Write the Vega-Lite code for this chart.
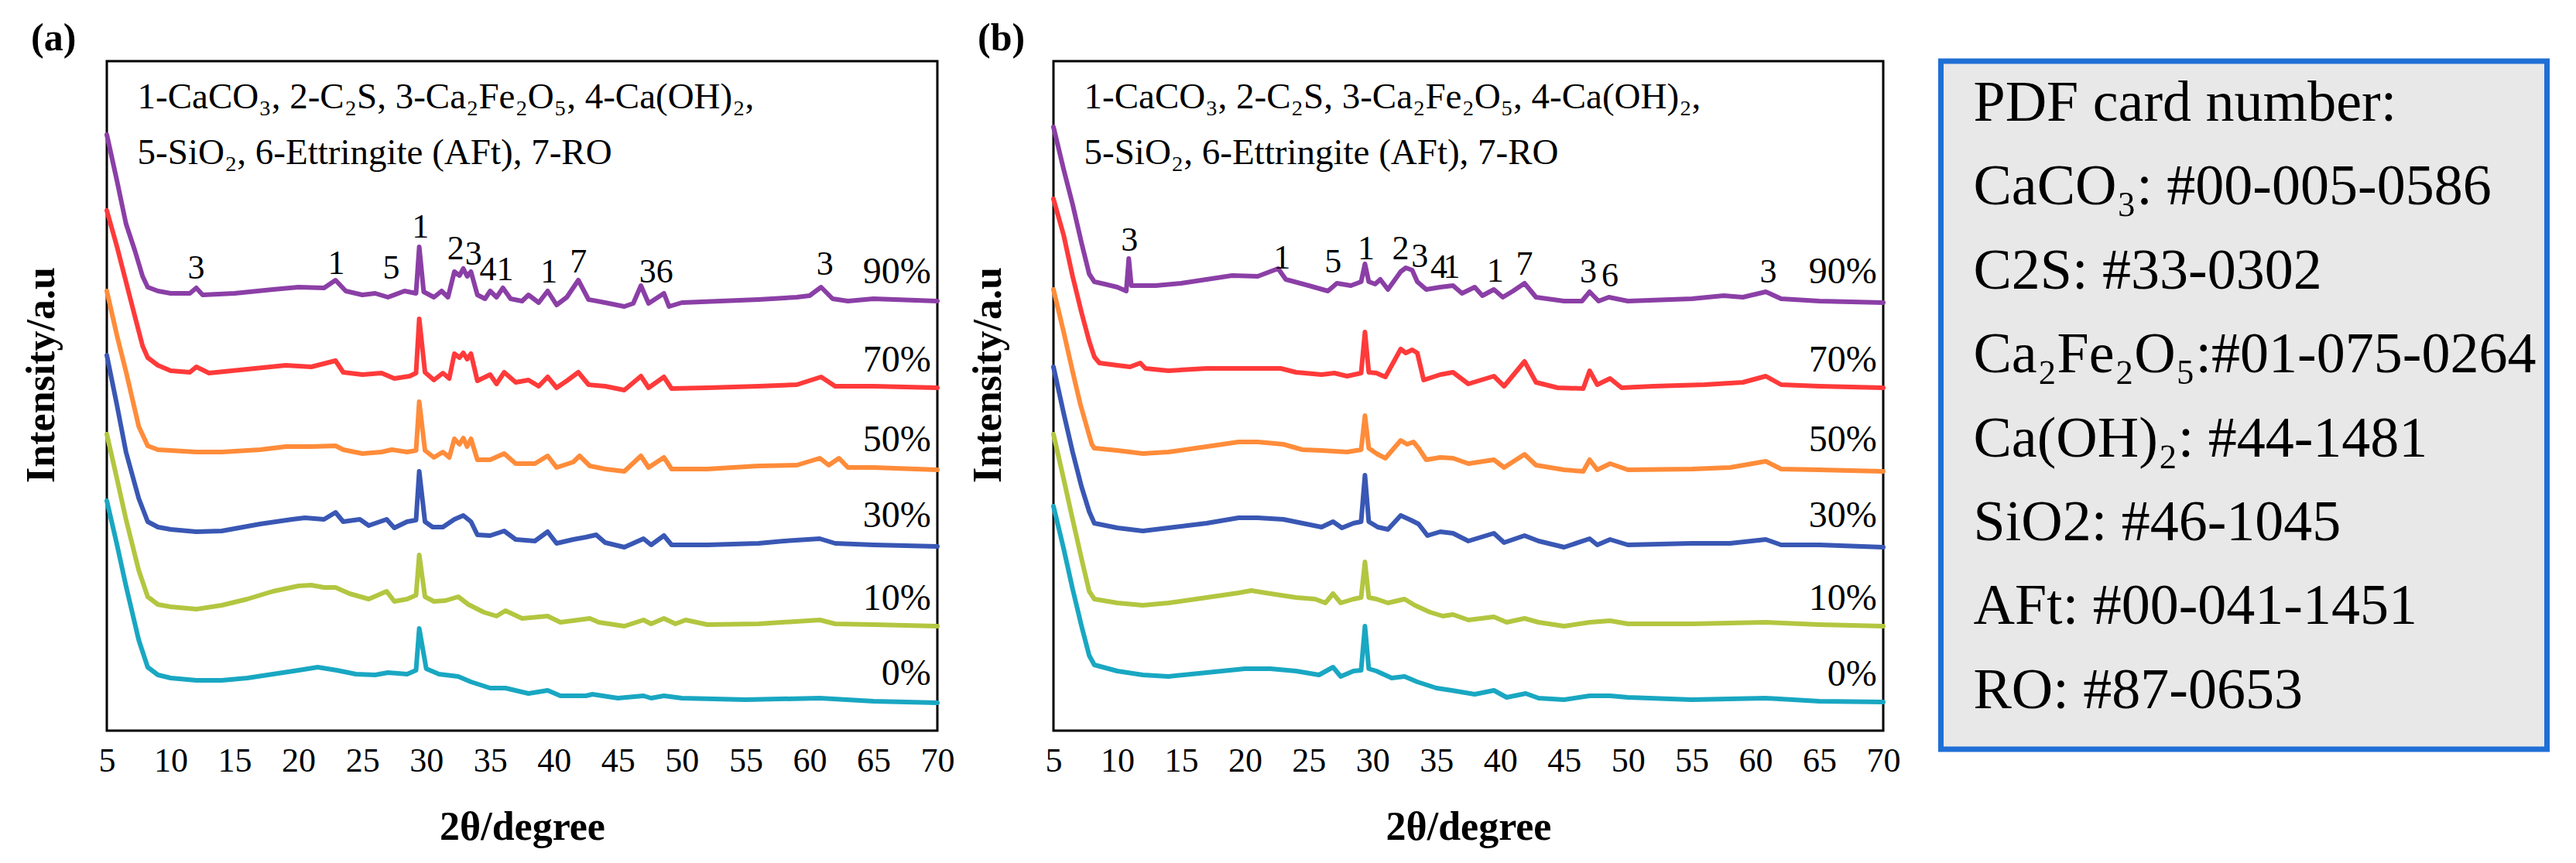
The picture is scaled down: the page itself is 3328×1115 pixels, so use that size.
{
  "$schema": "https://vega.github.io/schema/vega-lite/v6.json",
  "background": "white",
  "padding": {"left": 25, "top": 23, "right": 5, "bottom": 5},
  "config": {
    "font": "Liberation Serif",
    "view": {"stroke": "black", "strokeWidth": 3},
    "axis": {"labelColor": "black", "titleColor": "black", "grid": false}
  },
  "datasets": {
    "majorTicks": [{"x":5},{"x":10},{"x":15},{"x":20},{"x":25},{"x":30},{"x":35},{"x":40},{"x":45},{"x":50},{"x":55},{"x":60},{"x":65},{"x":70}],
    "minorTicks": [{"x":7.5},{"x":12.5},{"x":17.5},{"x":22.5},{"x":27.5},{"x":32.5},{"x":37.5},{"x":42.5},{"x":47.5},{"x":52.5},{"x":57.5},{"x":62.5},{"x":67.5}],
    "notes": [
      {"t": "1-CaCO₃, 2-C₂S, 3-Ca₂Fe₂O₅, 4-Ca(OH)₂,", "x": 7.4, "y": 804},
      {"t": "5-SiO₂, 6-Ettringite (AFt), 7-RO", "x": 7.4, "y": 732}
    ],
    "pct": [
      {"p":"a","t":"90%","x":69.5,"y":592},{"p":"a","t":"70%","x":69.5,"y":478},{"p":"a","t":"50%","x":69.5,"y":375},
      {"p":"a","t":"30%","x":69.5,"y":277},{"p":"a","t":"10%","x":69.5,"y":170},{"p":"a","t":"0%","x":69.5,"y":73},
      {"p":"b","t":"90%","x":69.5,"y":592},{"p":"b","t":"70%","x":69.5,"y":478},{"p":"b","t":"50%","x":69.5,"y":375},
      {"p":"b","t":"30%","x":69.5,"y":277},{"p":"b","t":"10%","x":69.5,"y":170},{"p":"b","t":"0%","x":69.5,"y":72}
    ],
    "peaks": [
      {"p":"a","t":"3","x":12.0,"y":597},{"p":"a","t":"1","x":22.96,"y":603},{"p":"a","t":"5","x":27.26,"y":597},
      {"p":"a","t":"1","x":29.55,"y":650},{"p":"a","t":"2","x":32.3,"y":622},{"p":"a","t":"3","x":33.7,"y":615},
      {"p":"a","t":"41","x":35.5,"y":595},{"p":"a","t":"1","x":39.6,"y":592},{"p":"a","t":"7","x":41.9,"y":605},
      {"p":"a","t":"36","x":48.0,"y":592},{"p":"a","t":"3","x":61.2,"y":602},
      {"p":"b","t":"3","x":10.96,"y":633},{"p":"b","t":"1","x":22.9,"y":610},{"p":"b","t":"5","x":26.9,"y":605},
      {"p":"b","t":"1","x":29.5,"y":622},{"p":"b","t":"2","x":32.2,"y":622},{"p":"b","t":"3","x":33.7,"y":612},
      {"p":"b","t":"4","x":35.2,"y":598},{"p":"b","t":"1","x":36.2,"y":598},{"p":"b","t":"1","x":39.6,"y":593},
      {"p":"b","t":"7","x":41.9,"y":602},{"p":"b","t":"3","x":46.9,"y":592},{"p":"b","t":"6","x":48.6,"y":587},
      {"p":"b","t":"3","x":61.0,"y":592}
    ],
    "card": [
      {"i":0,"t":"PDF card number:"},
      {"i":1,"t":"CaCO₃: #00-005-0586"},
      {"i":2,"t":"C2S: #33-0302"},
      {"i":3,"t":"Ca₂Fe₂O₅:#01-075-0264"},
      {"i":4,"t":"Ca(OH)₂: #44-1481"},
      {"i":5,"t":"SiO2: #46-1045"},
      {"i":6,"t":"AFt: #00-041-1451"},
      {"i":7,"t":"RO: #87-0653"}
    ],
    "curves": [
      {"p":"a","s":"90%","x":5,"y":770},{"p":"a","s":"90%","x":5.8,"y":710},{"p":"a","s":"90%","x":6.5,"y":655},{"p":"a","s":"90%","x":7.2,"y":620},
      {"p":"a","s":"90%","x":7.8,"y":587},{"p":"a","s":"90%","x":8.2,"y":573},{"p":"a","s":"90%","x":9,"y":568},{"p":"a","s":"90%","x":10,"y":565},
      {"p":"a","s":"90%","x":11.5,"y":565},{"p":"a","s":"90%","x":12,"y":572},{"p":"a","s":"90%","x":12.5,"y":563},{"p":"a","s":"90%","x":15,"y":565},
      {"p":"a","s":"90%","x":18,"y":570},{"p":"a","s":"90%","x":20,"y":573},{"p":"a","s":"90%","x":22,"y":572},{"p":"a","s":"90%","x":22.9,"y":582},
      {"p":"a","s":"90%","x":23.7,"y":568},{"p":"a","s":"90%","x":25,"y":563},{"p":"a","s":"90%","x":26,"y":565},{"p":"a","s":"90%","x":27,"y":560},
      {"p":"a","s":"90%","x":28.3,"y":568},{"p":"a","s":"90%","x":29.2,"y":565},{"p":"a","s":"90%","x":29.45,"y":625},{"p":"a","s":"90%","x":29.8,"y":567},
      {"p":"a","s":"90%","x":30.6,"y":560},{"p":"a","s":"90%","x":31.2,"y":568},{"p":"a","s":"90%","x":31.7,"y":560},{"p":"a","s":"90%","x":32.2,"y":593},
      {"p":"a","s":"90%","x":32.6,"y":588},{"p":"a","s":"90%","x":32.9,"y":597},{"p":"a","s":"90%","x":33.2,"y":587},{"p":"a","s":"90%","x":33.5,"y":593},
      {"p":"a","s":"90%","x":34,"y":563},{"p":"a","s":"90%","x":34.6,"y":558},{"p":"a","s":"90%","x":35,"y":568},{"p":"a","s":"90%","x":35.5,"y":560},
      {"p":"a","s":"90%","x":36,"y":572},{"p":"a","s":"90%","x":36.6,"y":558},{"p":"a","s":"90%","x":37.5,"y":555},{"p":"a","s":"90%","x":38,"y":563},
      {"p":"a","s":"90%","x":38.8,"y":553},{"p":"a","s":"90%","x":39.5,"y":568},{"p":"a","s":"90%","x":40.2,"y":550},{"p":"a","s":"90%","x":41,"y":560},
      {"p":"a","s":"90%","x":41.9,"y":582},{"p":"a","s":"90%","x":42.7,"y":557},{"p":"a","s":"90%","x":44,"y":553},{"p":"a","s":"90%","x":45.5,"y":548},
      {"p":"a","s":"90%","x":46.2,"y":552},{"p":"a","s":"90%","x":46.8,"y":575},{"p":"a","s":"90%","x":47.4,"y":552},{"p":"a","s":"90%","x":48.6,"y":565},
      {"p":"a","s":"90%","x":49,"y":548},{"p":"a","s":"90%","x":50,"y":553},{"p":"a","s":"90%","x":53,"y":555},{"p":"a","s":"90%","x":56,"y":557},
      {"p":"a","s":"90%","x":59,"y":560},{"p":"a","s":"90%","x":60,"y":562},{"p":"a","s":"90%","x":60.9,"y":573},{"p":"a","s":"90%","x":61.8,"y":558},
      {"p":"a","s":"90%","x":63,"y":555},{"p":"a","s":"90%","x":65,"y":558},{"p":"a","s":"90%","x":70,"y":555},

      {"p":"a","s":"70%","x":5,"y":672},{"p":"a","s":"70%","x":5.8,"y":625},{"p":"a","s":"70%","x":6.5,"y":580},{"p":"a","s":"70%","x":7.2,"y":535},
      {"p":"a","s":"70%","x":7.8,"y":497},{"p":"a","s":"70%","x":8.2,"y":482},{"p":"a","s":"70%","x":9,"y":472},{"p":"a","s":"70%","x":10,"y":465},
      {"p":"a","s":"70%","x":11.5,"y":463},{"p":"a","s":"70%","x":12,"y":470},{"p":"a","s":"70%","x":13,"y":462},{"p":"a","s":"70%","x":16,"y":467},
      {"p":"a","s":"70%","x":19,"y":472},{"p":"a","s":"70%","x":21,"y":470},{"p":"a","s":"70%","x":22.9,"y":478},{"p":"a","s":"70%","x":23.5,"y":463},
      {"p":"a","s":"70%","x":25,"y":460},{"p":"a","s":"70%","x":26.5,"y":462},{"p":"a","s":"70%","x":27.5,"y":455},{"p":"a","s":"70%","x":28.7,"y":458},
      {"p":"a","s":"70%","x":29.2,"y":462},{"p":"a","s":"70%","x":29.45,"y":532},{"p":"a","s":"70%","x":29.9,"y":463},{"p":"a","s":"70%","x":30.6,"y":453},
      {"p":"a","s":"70%","x":31.3,"y":462},{"p":"a","s":"70%","x":31.8,"y":455},{"p":"a","s":"70%","x":32.2,"y":487},{"p":"a","s":"70%","x":32.6,"y":482},
      {"p":"a","s":"70%","x":32.9,"y":488},{"p":"a","s":"70%","x":33.2,"y":480},{"p":"a","s":"70%","x":33.5,"y":487},{"p":"a","s":"70%","x":34,"y":452},
      {"p":"a","s":"70%","x":35,"y":460},{"p":"a","s":"70%","x":35.5,"y":448},{"p":"a","s":"70%","x":36.1,"y":463},{"p":"a","s":"70%","x":37,"y":450},
      {"p":"a","s":"70%","x":38,"y":453},{"p":"a","s":"70%","x":38.8,"y":445},{"p":"a","s":"70%","x":39.5,"y":457},{"p":"a","s":"70%","x":40.2,"y":443},
      {"p":"a","s":"70%","x":41,"y":452},{"p":"a","s":"70%","x":41.9,"y":463},{"p":"a","s":"70%","x":42.7,"y":447},{"p":"a","s":"70%","x":44,"y":445},
      {"p":"a","s":"70%","x":45.5,"y":440},{"p":"a","s":"70%","x":46.8,"y":458},{"p":"a","s":"70%","x":47.4,"y":443},{"p":"a","s":"70%","x":48.6,"y":457},
      {"p":"a","s":"70%","x":49.2,"y":442},{"p":"a","s":"70%","x":52,"y":443},{"p":"a","s":"70%","x":56,"y":445},{"p":"a","s":"70%","x":59,"y":447},
      {"p":"a","s":"70%","x":60.9,"y":457},{"p":"a","s":"70%","x":62,"y":445},{"p":"a","s":"70%","x":65,"y":445},{"p":"a","s":"70%","x":70,"y":443},

      {"p":"a","s":"50%","x":5,"y":568},{"p":"a","s":"50%","x":5.8,"y":510},{"p":"a","s":"50%","x":6.5,"y":464},{"p":"a","s":"50%","x":7.5,"y":393},
      {"p":"a","s":"50%","x":8.2,"y":368},{"p":"a","s":"50%","x":9,"y":363},{"p":"a","s":"50%","x":10,"y":362},{"p":"a","s":"50%","x":12,"y":360},
      {"p":"a","s":"50%","x":14,"y":360},{"p":"a","s":"50%","x":17,"y":363},{"p":"a","s":"50%","x":19,"y":367},{"p":"a","s":"50%","x":21,"y":367},
      {"p":"a","s":"50%","x":22.9,"y":368},{"p":"a","s":"50%","x":23.5,"y":363},{"p":"a","s":"50%","x":25,"y":358},{"p":"a","s":"50%","x":26.5,"y":360},
      {"p":"a","s":"50%","x":27.3,"y":363},{"p":"a","s":"50%","x":28.5,"y":360},{"p":"a","s":"50%","x":29.2,"y":362},{"p":"a","s":"50%","x":29.45,"y":425},
      {"p":"a","s":"50%","x":29.9,"y":362},{"p":"a","s":"50%","x":30.6,"y":353},{"p":"a","s":"50%","x":31.3,"y":360},{"p":"a","s":"50%","x":31.8,"y":353},
      {"p":"a","s":"50%","x":32.2,"y":377},{"p":"a","s":"50%","x":32.6,"y":370},{"p":"a","s":"50%","x":32.9,"y":378},{"p":"a","s":"50%","x":33.2,"y":367},
      {"p":"a","s":"50%","x":33.5,"y":377},{"p":"a","s":"50%","x":34,"y":350},{"p":"a","s":"50%","x":35,"y":350},{"p":"a","s":"50%","x":36.1,"y":358},
      {"p":"a","s":"50%","x":37,"y":345},{"p":"a","s":"50%","x":38.5,"y":345},{"p":"a","s":"50%","x":39.5,"y":355},{"p":"a","s":"50%","x":40.2,"y":340},
      {"p":"a","s":"50%","x":41.5,"y":347},{"p":"a","s":"50%","x":42,"y":355},{"p":"a","s":"50%","x":42.8,"y":342},{"p":"a","s":"50%","x":44,"y":338},
      {"p":"a","s":"50%","x":45.5,"y":335},{"p":"a","s":"50%","x":46.8,"y":355},{"p":"a","s":"50%","x":47.4,"y":340},{"p":"a","s":"50%","x":48.6,"y":353},
      {"p":"a","s":"50%","x":49.2,"y":338},{"p":"a","s":"50%","x":52,"y":338},{"p":"a","s":"50%","x":56,"y":342},{"p":"a","s":"50%","x":59,"y":343},
      {"p":"a","s":"50%","x":60.8,"y":352},{"p":"a","s":"50%","x":61.5,"y":343},{"p":"a","s":"50%","x":62.3,"y":352},{"p":"a","s":"50%","x":63,"y":340},
      {"p":"a","s":"50%","x":65,"y":340},{"p":"a","s":"50%","x":70,"y":337},

      {"p":"a","s":"30%","x":5,"y":485},{"p":"a","s":"30%","x":5.8,"y":420},{"p":"a","s":"30%","x":6.5,"y":360},{"p":"a","s":"30%","x":7.5,"y":300},
      {"p":"a","s":"30%","x":8.2,"y":270},{"p":"a","s":"30%","x":9,"y":263},{"p":"a","s":"30%","x":10,"y":260},{"p":"a","s":"30%","x":12,"y":257},
      {"p":"a","s":"30%","x":14,"y":258},{"p":"a","s":"30%","x":17,"y":267},{"p":"a","s":"30%","x":19.5,"y":273},{"p":"a","s":"30%","x":20.5,"y":275},
      {"p":"a","s":"30%","x":22,"y":273},{"p":"a","s":"30%","x":22.9,"y":282},{"p":"a","s":"30%","x":23.5,"y":270},{"p":"a","s":"30%","x":24.8,"y":273},
      {"p":"a","s":"30%","x":25.5,"y":265},{"p":"a","s":"30%","x":26.9,"y":273},{"p":"a","s":"30%","x":27.5,"y":262},{"p":"a","s":"30%","x":28.5,"y":270},
      {"p":"a","s":"30%","x":29.2,"y":272},{"p":"a","s":"30%","x":29.45,"y":335},{"p":"a","s":"30%","x":29.9,"y":270},{"p":"a","s":"30%","x":30.5,"y":263},
      {"p":"a","s":"30%","x":31.3,"y":263},{"p":"a","s":"30%","x":32.2,"y":273},{"p":"a","s":"30%","x":32.9,"y":278},{"p":"a","s":"30%","x":33.5,"y":270},
      {"p":"a","s":"30%","x":34,"y":253},{"p":"a","s":"30%","x":35,"y":252},{"p":"a","s":"30%","x":36.1,"y":258},{"p":"a","s":"30%","x":37,"y":247},
      {"p":"a","s":"30%","x":38.5,"y":245},{"p":"a","s":"30%","x":39.5,"y":257},{"p":"a","s":"30%","x":40.2,"y":242},{"p":"a","s":"30%","x":41.5,"y":247},
      {"p":"a","s":"30%","x":42.5,"y":250},{"p":"a","s":"30%","x":43.3,"y":253},{"p":"a","s":"30%","x":44,"y":243},{"p":"a","s":"30%","x":45.5,"y":237},
      {"p":"a","s":"30%","x":47,"y":248},{"p":"a","s":"30%","x":47.6,"y":240},{"p":"a","s":"30%","x":48.6,"y":252},{"p":"a","s":"30%","x":49.2,"y":240},
      {"p":"a","s":"30%","x":52,"y":240},{"p":"a","s":"30%","x":56,"y":242},{"p":"a","s":"30%","x":58,"y":245},{"p":"a","s":"30%","x":60.8,"y":248},
      {"p":"a","s":"30%","x":62,"y":242},{"p":"a","s":"30%","x":65,"y":240},{"p":"a","s":"30%","x":70,"y":238},

      {"p":"a","s":"10%","x":5,"y":383},{"p":"a","s":"10%","x":5.8,"y":325},{"p":"a","s":"10%","x":6.5,"y":273},{"p":"a","s":"10%","x":7.5,"y":207},
      {"p":"a","s":"10%","x":8.2,"y":173},{"p":"a","s":"10%","x":9,"y":163},{"p":"a","s":"10%","x":10,"y":160},{"p":"a","s":"10%","x":12,"y":157},
      {"p":"a","s":"10%","x":14,"y":162},{"p":"a","s":"10%","x":16,"y":170},{"p":"a","s":"10%","x":18,"y":180},{"p":"a","s":"10%","x":20,"y":187},
      {"p":"a","s":"10%","x":21,"y":188},{"p":"a","s":"10%","x":22,"y":185},{"p":"a","s":"10%","x":22.9,"y":185},{"p":"a","s":"10%","x":24,"y":177},
      {"p":"a","s":"10%","x":25.5,"y":170},{"p":"a","s":"10%","x":26.9,"y":180},{"p":"a","s":"10%","x":27.5,"y":167},{"p":"a","s":"10%","x":28.5,"y":170},
      {"p":"a","s":"10%","x":29.2,"y":175},{"p":"a","s":"10%","x":29.45,"y":227},{"p":"a","s":"10%","x":29.9,"y":173},{"p":"a","s":"10%","x":30.6,"y":167},
      {"p":"a","s":"10%","x":31.5,"y":168},{"p":"a","s":"10%","x":32.5,"y":173},{"p":"a","s":"10%","x":33.3,"y":163},{"p":"a","s":"10%","x":34.5,"y":153},
      {"p":"a","s":"10%","x":35.5,"y":148},{"p":"a","s":"10%","x":36.2,"y":155},{"p":"a","s":"10%","x":37.5,"y":145},{"p":"a","s":"10%","x":39.5,"y":148},
      {"p":"a","s":"10%","x":40.5,"y":140},{"p":"a","s":"10%","x":42.8,"y":145},{"p":"a","s":"10%","x":43.5,"y":140},{"p":"a","s":"10%","x":45.5,"y":135},
      {"p":"a","s":"10%","x":47,"y":143},{"p":"a","s":"10%","x":47.6,"y":138},{"p":"a","s":"10%","x":48.6,"y":145},{"p":"a","s":"10%","x":49.5,"y":138},
      {"p":"a","s":"10%","x":50.3,"y":143},{"p":"a","s":"10%","x":52,"y":137},{"p":"a","s":"10%","x":56,"y":138},{"p":"a","s":"10%","x":60.8,"y":143},
      {"p":"a","s":"10%","x":62,"y":138},{"p":"a","s":"10%","x":65,"y":137},{"p":"a","s":"10%","x":70,"y":135},

      {"p":"a","s":"0%","x":5,"y":297},{"p":"a","s":"0%","x":5.8,"y":240},{"p":"a","s":"0%","x":6.5,"y":187},{"p":"a","s":"0%","x":7.5,"y":117},
      {"p":"a","s":"0%","x":8.2,"y":82},{"p":"a","s":"0%","x":9,"y":72},{"p":"a","s":"0%","x":10,"y":68},{"p":"a","s":"0%","x":12,"y":65},
      {"p":"a","s":"0%","x":14,"y":65},{"p":"a","s":"0%","x":16,"y":68},{"p":"a","s":"0%","x":18,"y":73},{"p":"a","s":"0%","x":20,"y":78},
      {"p":"a","s":"0%","x":21.5,"y":82},{"p":"a","s":"0%","x":23,"y":78},{"p":"a","s":"0%","x":24.5,"y":73},{"p":"a","s":"0%","x":26,"y":72},
      {"p":"a","s":"0%","x":27,"y":75},{"p":"a","s":"0%","x":28.5,"y":73},{"p":"a","s":"0%","x":29.2,"y":78},{"p":"a","s":"0%","x":29.45,"y":132},
      {"p":"a","s":"0%","x":30,"y":80},{"p":"a","s":"0%","x":31,"y":73},{"p":"a","s":"0%","x":32.5,"y":70},{"p":"a","s":"0%","x":33.5,"y":63},
      {"p":"a","s":"0%","x":35,"y":55},{"p":"a","s":"0%","x":36.2,"y":55},{"p":"a","s":"0%","x":38,"y":48},{"p":"a","s":"0%","x":39.5,"y":52},
      {"p":"a","s":"0%","x":40.5,"y":45},{"p":"a","s":"0%","x":42.5,"y":45},{"p":"a","s":"0%","x":43,"y":47},{"p":"a","s":"0%","x":45,"y":42},
      {"p":"a","s":"0%","x":47,"y":45},{"p":"a","s":"0%","x":47.6,"y":42},{"p":"a","s":"0%","x":48.6,"y":45},{"p":"a","s":"0%","x":50,"y":42},
      {"p":"a","s":"0%","x":55,"y":40},{"p":"a","s":"0%","x":60.8,"y":42},{"p":"a","s":"0%","x":65,"y":38},{"p":"a","s":"0%","x":70,"y":36},

      {"p":"b","s":"90%","x":5,"y":780},{"p":"b","s":"90%","x":5.8,"y":725},{"p":"b","s":"90%","x":6.5,"y":680},{"p":"b","s":"90%","x":7.2,"y":630},
      {"p":"b","s":"90%","x":7.8,"y":590},{"p":"b","s":"90%","x":8.2,"y":580},{"p":"b","s":"90%","x":9,"y":577},{"p":"b","s":"90%","x":10,"y":573},
      {"p":"b","s":"90%","x":10.7,"y":568},{"p":"b","s":"90%","x":10.9,"y":610},{"p":"b","s":"90%","x":11.1,"y":575},{"p":"b","s":"90%","x":13,"y":575},
      {"p":"b","s":"90%","x":15,"y":578},{"p":"b","s":"90%","x":17,"y":583},{"p":"b","s":"90%","x":19,"y":588},{"p":"b","s":"90%","x":21,"y":587},
      {"p":"b","s":"90%","x":22.6,"y":597},{"p":"b","s":"90%","x":23.2,"y":583},{"p":"b","s":"90%","x":25,"y":575},{"p":"b","s":"90%","x":26.5,"y":568},
      {"p":"b","s":"90%","x":27.2,"y":578},{"p":"b","s":"90%","x":28.3,"y":575},{"p":"b","s":"90%","x":29.1,"y":580},{"p":"b","s":"90%","x":29.4,"y":603},
      {"p":"b","s":"90%","x":29.7,"y":580},{"p":"b","s":"90%","x":30.2,"y":577},{"p":"b","s":"90%","x":30.6,"y":583},{"p":"b","s":"90%","x":31.2,"y":570},
      {"p":"b","s":"90%","x":32.2,"y":593},{"p":"b","s":"90%","x":32.6,"y":598},{"p":"b","s":"90%","x":33.1,"y":595},{"p":"b","s":"90%","x":33.5,"y":580},
      {"p":"b","s":"90%","x":34.2,"y":570},{"p":"b","s":"90%","x":35.3,"y":573},{"p":"b","s":"90%","x":36.3,"y":575},{"p":"b","s":"90%","x":37,"y":565},
      {"p":"b","s":"90%","x":38,"y":573},{"p":"b","s":"90%","x":38.6,"y":562},{"p":"b","s":"90%","x":39.5,"y":570},{"p":"b","s":"90%","x":40.2,"y":560},
      {"p":"b","s":"90%","x":41,"y":568},{"p":"b","s":"90%","x":41.9,"y":578},{"p":"b","s":"90%","x":42.8,"y":560},{"p":"b","s":"90%","x":45,"y":555},
      {"p":"b","s":"90%","x":46.4,"y":555},{"p":"b","s":"90%","x":47,"y":567},{"p":"b","s":"90%","x":47.7,"y":555},{"p":"b","s":"90%","x":48.5,"y":560},
      {"p":"b","s":"90%","x":50,"y":555},{"p":"b","s":"90%","x":55,"y":558},{"p":"b","s":"90%","x":57.5,"y":562},{"p":"b","s":"90%","x":59,"y":560},
      {"p":"b","s":"90%","x":60.8,"y":567},{"p":"b","s":"90%","x":62,"y":558},{"p":"b","s":"90%","x":65,"y":555},{"p":"b","s":"90%","x":70,"y":553},

      {"p":"b","s":"70%","x":5,"y":687},{"p":"b","s":"70%","x":5.8,"y":640},{"p":"b","s":"70%","x":6.5,"y":587},{"p":"b","s":"70%","x":7.2,"y":540},
      {"p":"b","s":"70%","x":7.8,"y":503},{"p":"b","s":"70%","x":8.2,"y":483},{"p":"b","s":"70%","x":8.6,"y":475},{"p":"b","s":"70%","x":10,"y":472},
      {"p":"b","s":"70%","x":11,"y":470},{"p":"b","s":"70%","x":11.8,"y":475},{"p":"b","s":"70%","x":12.2,"y":468},{"p":"b","s":"70%","x":14,"y":465},
      {"p":"b","s":"70%","x":17,"y":468},{"p":"b","s":"70%","x":20,"y":468},{"p":"b","s":"70%","x":22.8,"y":468},{"p":"b","s":"70%","x":24,"y":463},
      {"p":"b","s":"70%","x":26,"y":460},{"p":"b","s":"70%","x":27,"y":462},{"p":"b","s":"70%","x":28,"y":458},{"p":"b","s":"70%","x":29.1,"y":462},
      {"p":"b","s":"70%","x":29.4,"y":515},{"p":"b","s":"70%","x":29.7,"y":463},{"p":"b","s":"70%","x":30.3,"y":462},{"p":"b","s":"70%","x":31,"y":457},
      {"p":"b","s":"70%","x":32.2,"y":493},{"p":"b","s":"70%","x":32.6,"y":488},{"p":"b","s":"70%","x":33.1,"y":492},{"p":"b","s":"70%","x":33.5,"y":488},
      {"p":"b","s":"70%","x":34,"y":453},{"p":"b","s":"70%","x":35.3,"y":460},{"p":"b","s":"70%","x":36.3,"y":463},{"p":"b","s":"70%","x":37.5,"y":448},
      {"p":"b","s":"70%","x":39.5,"y":458},{"p":"b","s":"70%","x":40.3,"y":445},{"p":"b","s":"70%","x":41.9,"y":477},{"p":"b","s":"70%","x":42.8,"y":450},
      {"p":"b","s":"70%","x":44.5,"y":443},{"p":"b","s":"70%","x":46.5,"y":442},{"p":"b","s":"70%","x":47,"y":465},{"p":"b","s":"70%","x":47.6,"y":447},
      {"p":"b","s":"70%","x":48.6,"y":455},{"p":"b","s":"70%","x":49.5,"y":443},{"p":"b","s":"70%","x":52,"y":445},{"p":"b","s":"70%","x":56,"y":447},
      {"p":"b","s":"70%","x":59,"y":450},{"p":"b","s":"70%","x":60.8,"y":458},{"p":"b","s":"70%","x":62,"y":447},{"p":"b","s":"70%","x":65,"y":445},
      {"p":"b","s":"70%","x":70,"y":443},

      {"p":"b","s":"50%","x":5,"y":570},{"p":"b","s":"50%","x":5.8,"y":515},{"p":"b","s":"50%","x":6.5,"y":464},{"p":"b","s":"50%","x":7.1,"y":422},
      {"p":"b","s":"50%","x":8,"y":370},{"p":"b","s":"50%","x":8.2,"y":365},{"p":"b","s":"50%","x":10,"y":362},{"p":"b","s":"50%","x":12,"y":358},
      {"p":"b","s":"50%","x":14,"y":360},{"p":"b","s":"50%","x":17,"y":367},{"p":"b","s":"50%","x":19.5,"y":373},{"p":"b","s":"50%","x":21,"y":373},
      {"p":"b","s":"50%","x":23,"y":370},{"p":"b","s":"50%","x":24.5,"y":363},{"p":"b","s":"50%","x":26,"y":362},{"p":"b","s":"50%","x":28,"y":360},
      {"p":"b","s":"50%","x":29.1,"y":363},{"p":"b","s":"50%","x":29.4,"y":407},{"p":"b","s":"50%","x":29.7,"y":365},{"p":"b","s":"50%","x":30.4,"y":357},
      {"p":"b","s":"50%","x":31,"y":352},{"p":"b","s":"50%","x":32.2,"y":375},{"p":"b","s":"50%","x":32.7,"y":370},{"p":"b","s":"50%","x":33.2,"y":373},
      {"p":"b","s":"50%","x":33.6,"y":365},{"p":"b","s":"50%","x":34.2,"y":350},{"p":"b","s":"50%","x":35.3,"y":353},{"p":"b","s":"50%","x":36.3,"y":352},
      {"p":"b","s":"50%","x":37.5,"y":345},{"p":"b","s":"50%","x":39.5,"y":350},{"p":"b","s":"50%","x":40.3,"y":340},{"p":"b","s":"50%","x":41.9,"y":357},
      {"p":"b","s":"50%","x":42.8,"y":343},{"p":"b","s":"50%","x":45,"y":337},{"p":"b","s":"50%","x":46.5,"y":335},{"p":"b","s":"50%","x":47,"y":350},
      {"p":"b","s":"50%","x":47.6,"y":337},{"p":"b","s":"50%","x":48.6,"y":345},{"p":"b","s":"50%","x":50,"y":337},{"p":"b","s":"50%","x":55,"y":338},
      {"p":"b","s":"50%","x":58,"y":340},{"p":"b","s":"50%","x":60.8,"y":348},{"p":"b","s":"50%","x":62,"y":338},{"p":"b","s":"50%","x":65,"y":337},
      {"p":"b","s":"50%","x":70,"y":335},

      {"p":"b","s":"30%","x":5,"y":470},{"p":"b","s":"30%","x":5.8,"y":410},{"p":"b","s":"30%","x":6.5,"y":360},{"p":"b","s":"30%","x":7.2,"y":315},
      {"p":"b","s":"30%","x":7.8,"y":283},{"p":"b","s":"30%","x":8.2,"y":268},{"p":"b","s":"30%","x":10,"y":262},{"p":"b","s":"30%","x":12,"y":258},
      {"p":"b","s":"30%","x":14,"y":262},{"p":"b","s":"30%","x":17,"y":268},{"p":"b","s":"30%","x":19.5,"y":275},{"p":"b","s":"30%","x":21,"y":275},
      {"p":"b","s":"30%","x":23,"y":273},{"p":"b","s":"30%","x":24.5,"y":268},{"p":"b","s":"30%","x":26,"y":263},{"p":"b","s":"30%","x":26.9,"y":270},
      {"p":"b","s":"30%","x":27.6,"y":262},{"p":"b","s":"30%","x":28.5,"y":268},{"p":"b","s":"30%","x":29.1,"y":270},{"p":"b","s":"30%","x":29.4,"y":330},
      {"p":"b","s":"30%","x":29.7,"y":270},{"p":"b","s":"30%","x":30.4,"y":263},{"p":"b","s":"30%","x":31.2,"y":260},{"p":"b","s":"30%","x":32.2,"y":278},
      {"p":"b","s":"30%","x":33,"y":272},{"p":"b","s":"30%","x":33.6,"y":267},{"p":"b","s":"30%","x":34.3,"y":252},{"p":"b","s":"30%","x":35.3,"y":257},
      {"p":"b","s":"30%","x":36.3,"y":255},{"p":"b","s":"30%","x":37.5,"y":245},{"p":"b","s":"30%","x":39.5,"y":255},{"p":"b","s":"30%","x":40.3,"y":243},
      {"p":"b","s":"30%","x":41.9,"y":252},{"p":"b","s":"30%","x":43,"y":245},{"p":"b","s":"30%","x":45,"y":237},{"p":"b","s":"30%","x":47,"y":248},
      {"p":"b","s":"30%","x":47.6,"y":240},{"p":"b","s":"30%","x":48.6,"y":247},{"p":"b","s":"30%","x":50,"y":240},{"p":"b","s":"30%","x":55,"y":242},
      {"p":"b","s":"30%","x":58,"y":242},{"p":"b","s":"30%","x":60.8,"y":247},{"p":"b","s":"30%","x":62,"y":240},{"p":"b","s":"30%","x":65,"y":240},
      {"p":"b","s":"30%","x":70,"y":237},

      {"p":"b","s":"10%","x":5,"y":383},{"p":"b","s":"10%","x":5.8,"y":325},{"p":"b","s":"10%","x":6.5,"y":273},{"p":"b","s":"10%","x":7.2,"y":222},
      {"p":"b","s":"10%","x":7.8,"y":180},{"p":"b","s":"10%","x":8.2,"y":170},{"p":"b","s":"10%","x":10,"y":165},{"p":"b","s":"10%","x":12,"y":162},
      {"p":"b","s":"10%","x":14,"y":165},{"p":"b","s":"10%","x":17,"y":172},{"p":"b","s":"10%","x":19.5,"y":178},{"p":"b","s":"10%","x":20.5,"y":181},
      {"p":"b","s":"10%","x":22,"y":177},{"p":"b","s":"10%","x":24,"y":172},{"p":"b","s":"10%","x":25.5,"y":170},{"p":"b","s":"10%","x":26.3,"y":165},
      {"p":"b","s":"10%","x":26.9,"y":177},{"p":"b","s":"10%","x":27.5,"y":165},{"p":"b","s":"10%","x":28.5,"y":170},{"p":"b","s":"10%","x":29.1,"y":172},
      {"p":"b","s":"10%","x":29.4,"y":218},{"p":"b","s":"10%","x":29.7,"y":172},{"p":"b","s":"10%","x":30.3,"y":170},{"p":"b","s":"10%","x":31.2,"y":165},
      {"p":"b","s":"10%","x":32.5,"y":170},{"p":"b","s":"10%","x":33.3,"y":162},{"p":"b","s":"10%","x":34.5,"y":153},{"p":"b","s":"10%","x":35.5,"y":148},
      {"p":"b","s":"10%","x":36.3,"y":150},{"p":"b","s":"10%","x":37.5,"y":143},{"p":"b","s":"10%","x":39.5,"y":147},{"p":"b","s":"10%","x":40.5,"y":140},
      {"p":"b","s":"10%","x":41.9,"y":145},{"p":"b","s":"10%","x":43,"y":140},{"p":"b","s":"10%","x":45,"y":135},{"p":"b","s":"10%","x":47,"y":140},
      {"p":"b","s":"10%","x":48.6,"y":142},{"p":"b","s":"10%","x":50,"y":138},{"p":"b","s":"10%","x":55,"y":138},{"p":"b","s":"10%","x":60.8,"y":140},
      {"p":"b","s":"10%","x":65,"y":137},{"p":"b","s":"10%","x":70,"y":135},

      {"p":"b","s":"0%","x":5,"y":290},{"p":"b","s":"0%","x":5.8,"y":235},{"p":"b","s":"0%","x":6.5,"y":183},{"p":"b","s":"0%","x":7.2,"y":135},
      {"p":"b","s":"0%","x":7.8,"y":97},{"p":"b","s":"0%","x":8.2,"y":85},{"p":"b","s":"0%","x":10,"y":77},{"p":"b","s":"0%","x":12,"y":72},
      {"p":"b","s":"0%","x":14,"y":70},{"p":"b","s":"0%","x":17,"y":75},{"p":"b","s":"0%","x":20,"y":80},{"p":"b","s":"0%","x":22,"y":80},
      {"p":"b","s":"0%","x":24,"y":77},{"p":"b","s":"0%","x":25.8,"y":72},{"p":"b","s":"0%","x":26.9,"y":82},{"p":"b","s":"0%","x":27.5,"y":70},
      {"p":"b","s":"0%","x":28.5,"y":77},{"p":"b","s":"0%","x":29.1,"y":78},{"p":"b","s":"0%","x":29.4,"y":135},{"p":"b","s":"0%","x":29.7,"y":80},
      {"p":"b","s":"0%","x":30.3,"y":77},{"p":"b","s":"0%","x":31.5,"y":68},{"p":"b","s":"0%","x":32.5,"y":70},{"p":"b","s":"0%","x":33.5,"y":63},
      {"p":"b","s":"0%","x":35,"y":55},{"p":"b","s":"0%","x":36.2,"y":52},{"p":"b","s":"0%","x":38,"y":47},{"p":"b","s":"0%","x":39.5,"y":52},
      {"p":"b","s":"0%","x":40.5,"y":43},{"p":"b","s":"0%","x":42,"y":48},{"p":"b","s":"0%","x":43,"y":42},{"p":"b","s":"0%","x":45,"y":40},
      {"p":"b","s":"0%","x":47,"y":45},{"p":"b","s":"0%","x":48.6,"y":45},{"p":"b","s":"0%","x":50,"y":43},{"p":"b","s":"0%","x":55,"y":40},
      {"p":"b","s":"0%","x":60.8,"y":42},{"p":"b","s":"0%","x":65,"y":38},{"p":"b","s":"0%","x":70,"y":37}
    ]
  },
  "hconcat": [
    {
      "width": 1073,
      "height": 865,
      "title": {"text": "(a)", "anchor": "start", "frame": "group", "dx": -98, "offset": -36, "baseline": "alphabetic", "fontSize": 50, "fontWeight": "bold", "font": "Liberation Serif", "color": "black"},
      "encoding": {
        "x": {"field": "x", "type": "quantitative", "scale": {"domain": [5, 70], "nice": false, "zero": false},
          "axis": {"values": [5,10,15,20,25,30,35,40,45,50,55,60,65,70], "ticks": false, "domain": false, "labelFlush": false, "labelOverlap": false,
            "labelFont": "Liberation Serif", "labelFontSize": 44, "labelPadding": 17,
            "title": "2θ/degree", "titleFont": "Liberation Serif", "titleFontSize": 52, "titleFontWeight": "bold", "titleY": 140, "titleBaseline": "alphabetic", "titleAnchor": "middle"}},
        "y": {"field": "y", "type": "quantitative", "scale": {"domain": [0, 865], "nice": false, "zero": false},
          "axis": {"labels": false, "ticks": false, "domain": false,
            "title": "Intensity/a.u", "titleFont": "Liberation Serif", "titleFontSize": 52, "titleFontWeight": "bold", "titleAngle": 270, "titleX": -69, "titleY": 405, "titleBaseline": "alphabetic", "titleAlign": "center"}}
      },
      "layer": [
        {"data": {"name": "majorTicks"}, "mark": {"type": "rule", "color": "black", "strokeWidth": 3},
          "encoding": {"y": {"datum": 0, "type": "quantitative"}, "y2": {"datum": 17}}},
        {"data": {"name": "minorTicks"}, "mark": {"type": "rule", "color": "black", "strokeWidth": 3},
          "encoding": {"y": {"datum": 0, "type": "quantitative"}, "y2": {"datum": 8}}},
        {"data": {"name": "curves"}, "transform": [{"filter": "datum.p == 'a'"}],
          "mark": {"type": "line", "strokeWidth": 6, "strokeJoin": "round", "strokeCap": "round"},
          "encoding": {"color": {"field": "s", "type": "nominal", "legend": null,
            "scale": {"domain": ["0%","10%","30%","50%","70%","90%"], "range": ["#19a7c2","#b3c640","#3957b4","#ff8c3a","#ff3a3a","#8b3fa6"]}}}},
        {"data": {"name": "pct"}, "transform": [{"filter": "datum.p == 'a'"}],
          "mark": {"type": "text", "align": "right", "baseline": "middle", "fontSize": 48, "font": "Liberation Serif", "color": "black"},
          "encoding": {"text": {"field": "t"}}},
        {"data": {"name": "peaks"}, "transform": [{"filter": "datum.p == 'a'"}],
          "mark": {"type": "text", "align": "center", "baseline": "middle", "fontSize": 44, "font": "Liberation Serif", "color": "black"},
          "encoding": {"text": {"field": "t"}}},
        {"data": {"name": "notes"},
          "mark": {"type": "text", "align": "left", "baseline": "alphabetic", "fontSize": 47, "font": "Liberation Serif", "color": "black"},
          "encoding": {"text": {"field": "t"}}}
      ]
    },
    {
      "width": 1,
      "height": 865,
      "view": {"stroke": null, "fill": null},
      "data": {"values": []},
      "mark": {"type": "point", "opacity": 0},
      "encoding": {}
    },
    {
      "width": 1072,
      "height": 865,
      "title": {"text": "(b)", "anchor": "start", "frame": "group", "dx": -98, "offset": -36, "baseline": "alphabetic", "fontSize": 50, "fontWeight": "bold", "font": "Liberation Serif", "color": "black"},
      "encoding": {
        "x": {"field": "x", "type": "quantitative", "scale": {"domain": [5, 70], "nice": false, "zero": false},
          "axis": {"values": [5,10,15,20,25,30,35,40,45,50,55,60,65,70], "ticks": false, "domain": false, "labelFlush": false, "labelOverlap": false,
            "labelFont": "Liberation Serif", "labelFontSize": 44, "labelPadding": 17,
            "title": "2θ/degree", "titleFont": "Liberation Serif", "titleFontSize": 52, "titleFontWeight": "bold", "titleY": 140, "titleBaseline": "alphabetic", "titleAnchor": "middle"}},
        "y": {"field": "y", "type": "quantitative", "scale": {"domain": [0, 865], "nice": false, "zero": false},
          "axis": {"labels": false, "ticks": false, "domain": false,
            "title": "Intensity/a.u", "titleFont": "Liberation Serif", "titleFontSize": 52, "titleFontWeight": "bold", "titleAngle": 270, "titleX": -69, "titleY": 405, "titleBaseline": "alphabetic", "titleAlign": "center"}}
      },
      "layer": [
        {"data": {"name": "majorTicks"}, "mark": {"type": "rule", "color": "black", "strokeWidth": 3},
          "encoding": {"y": {"datum": 0, "type": "quantitative"}, "y2": {"datum": 17}}},
        {"data": {"name": "minorTicks"}, "mark": {"type": "rule", "color": "black", "strokeWidth": 3},
          "encoding": {"y": {"datum": 0, "type": "quantitative"}, "y2": {"datum": 8}}},
        {"data": {"name": "curves"}, "transform": [{"filter": "datum.p == 'b'"}],
          "mark": {"type": "line", "strokeWidth": 6, "strokeJoin": "round", "strokeCap": "round"},
          "encoding": {"color": {"field": "s", "type": "nominal", "legend": null,
            "scale": {"domain": ["0%","10%","30%","50%","70%","90%"], "range": ["#19a7c2","#b3c640","#3957b4","#ff8c3a","#ff3a3a","#8b3fa6"]}}}},
        {"data": {"name": "pct"}, "transform": [{"filter": "datum.p == 'b'"}],
          "mark": {"type": "text", "align": "right", "baseline": "middle", "fontSize": 48, "font": "Liberation Serif", "color": "black"},
          "encoding": {"text": {"field": "t"}}},
        {"data": {"name": "peaks"}, "transform": [{"filter": "datum.p == 'b'"}],
          "mark": {"type": "text", "align": "center", "baseline": "middle", "fontSize": 44, "font": "Liberation Serif", "color": "black"},
          "encoding": {"text": {"field": "t"}}},
        {"data": {"name": "notes"},
          "mark": {"type": "text", "align": "left", "baseline": "alphabetic", "fontSize": 47, "font": "Liberation Serif", "color": "black"},
          "encoding": {"text": {"field": "t"}}}
      ]
    },
    {
      "width": 783,
      "height": 889,
      "view": {"fill": "#e8e8e8", "stroke": "#1f6fd6", "strokeWidth": 7},
      "data": {"name": "card"},
      "mark": {"type": "text", "align": "left", "baseline": "alphabetic", "fontSize": 74, "font": "Liberation Serif", "color": "black", "dx": 42},
      "encoding": {
        "x": {"datum": 0, "type": "quantitative", "scale": {"domain": [0, 1]}, "axis": null},
        "y": {"field": "i", "type": "quantitative", "scale": {"domain": [-0.71, 7.49], "reverse": true, "nice": false, "zero": false}, "axis": null},
        "text": {"field": "t"}
      }
    }
  ],
  "spacing": 74.5,
  "bounds": "flush"
}
